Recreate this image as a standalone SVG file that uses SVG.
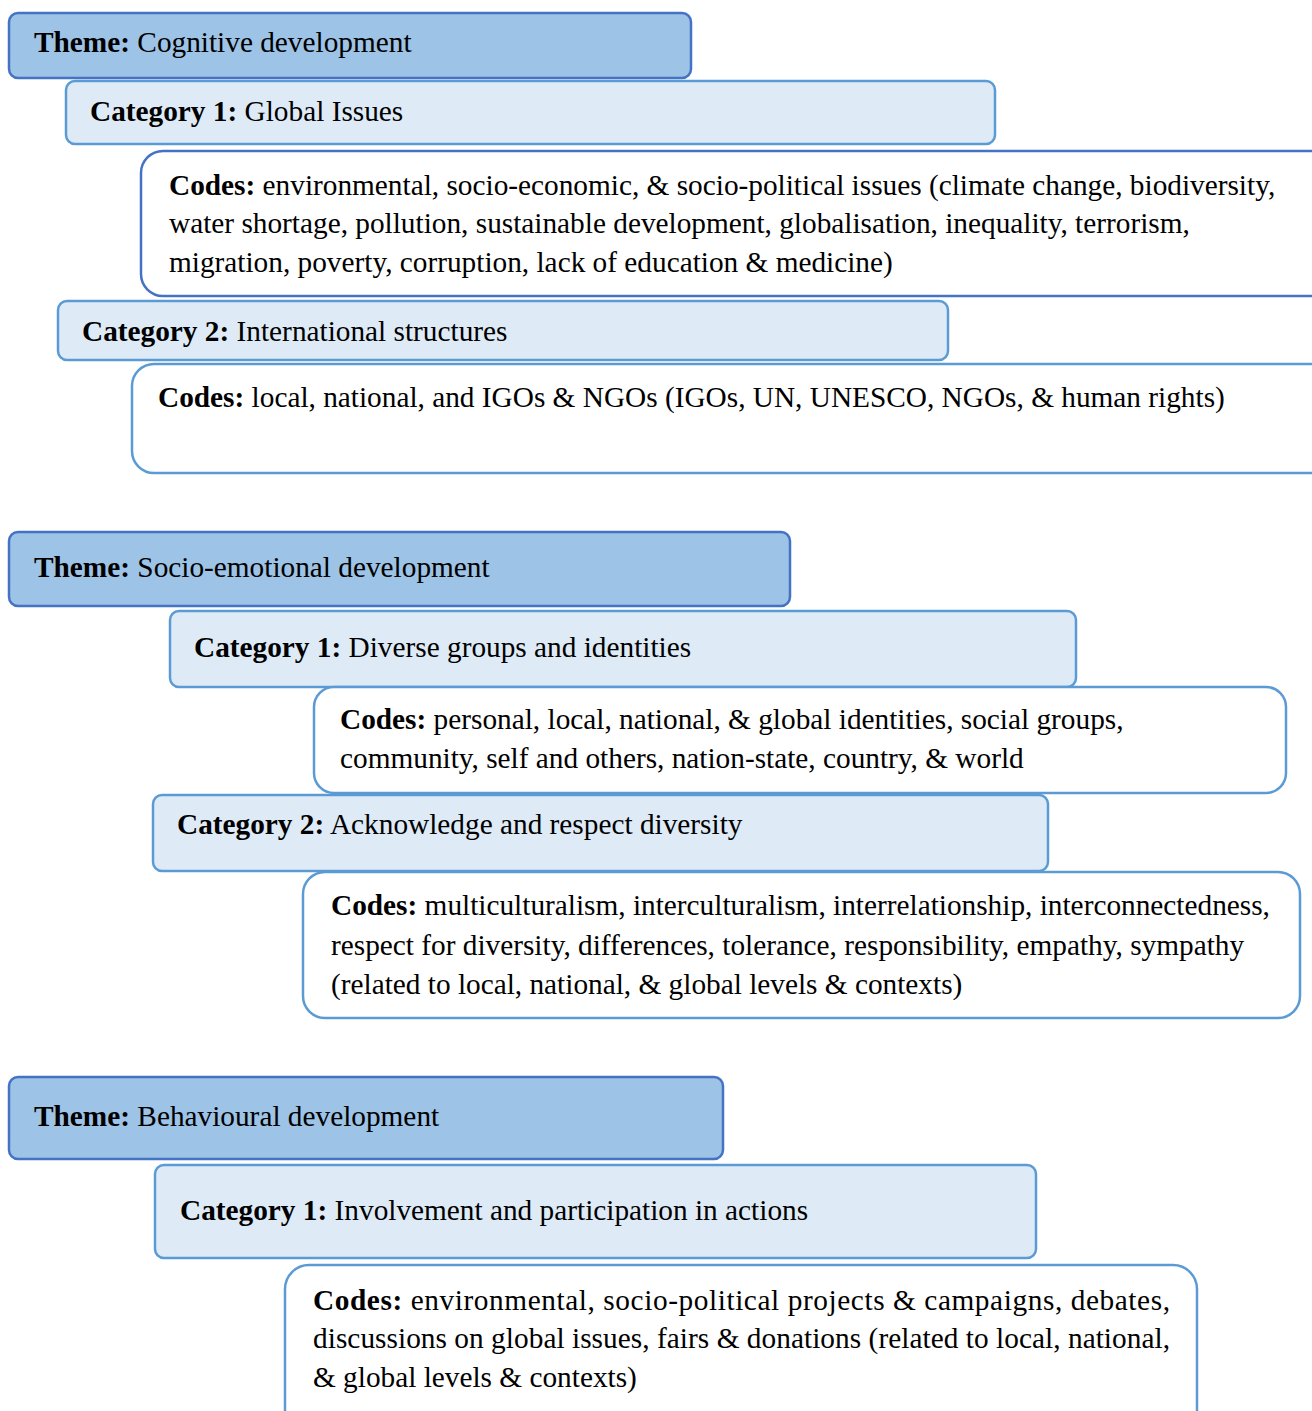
<svg xmlns="http://www.w3.org/2000/svg" width="1312" height="1411" viewBox="0 0 1312 1411">
<style>
text{font-family:"Liberation Serif","Times New Roman",serif;font-size:29.3px;fill:#000}
.b{font-weight:bold}
.theme{fill:#9DC3E6;stroke:#4472C4;stroke-width:2.5}
.cat{fill:#DEEBF7;stroke:#5B9BD5;stroke-width:2.5}
.code{fill:#fff;stroke:#5B9BD5;stroke-width:2.5}
.code1{fill:#fff;stroke:#4472C4;stroke-width:2.5}
</style>
<rect width="1312" height="1411" fill="#fff"/>
<g id="theme1"><rect class="theme" x="9" y="13" width="682" height="65" rx="9"/><text x="34" y="52"><tspan class="b">Theme:</tspan> Cognitive development</text></g>
<g id="t1cat1"><rect class="cat" x="66" y="81" width="929" height="63" rx="9"/><text x="90" y="121"><tspan class="b">Category 1:</tspan> Global Issues</text></g>
<g id="t1codes1"><rect class="code1" x="141" y="151" width="1200" height="145" rx="22"/>
<text x="169" y="195"><tspan class="b">Codes:</tspan> environmental, socio-economic, &amp; socio-political issues (climate change, biodiversity,</text>
<text x="169" y="233">water shortage, pollution, sustainable development, globalisation, inequality, terrorism,</text>
<text x="169" y="272">migration, poverty, corruption, lack of education &amp; medicine)</text></g>
<g id="t1cat2"><rect class="cat" x="58" y="301" width="890" height="59" rx="9"/><text x="82" y="341"><tspan class="b">Category 2:</tspan> International structures</text></g>
<g id="t1codes2"><rect class="code" x="132" y="364" width="1210" height="109" rx="22"/>
<text x="158" y="407"><tspan class="b">Codes:</tspan> local, national, and IGOs &amp; NGOs (IGOs, UN, UNESCO, NGOs, &amp; human rights)</text></g>

<g id="theme2"><rect class="theme" x="9" y="532" width="781" height="74" rx="9"/><text x="34" y="577"><tspan class="b">Theme:</tspan> Socio-emotional development</text></g>
<g id="t2cat1"><rect class="cat" x="170" y="611" width="906" height="76" rx="9"/><text x="194" y="657"><tspan class="b">Category 1:</tspan> Diverse groups and identities</text></g>
<g id="t2codes1"><rect class="code" x="314" y="687" width="972" height="106" rx="20"/>
<text x="340" y="729"><tspan class="b">Codes:</tspan> personal, local, national, &amp; global identities, social groups,</text>
<text x="340" y="768">community, self and others, nation-state, country, &amp; world</text></g>
<g id="t2cat2"><rect class="cat" x="153" y="795" width="895" height="76" rx="9"/><text x="177" y="834"><tspan class="b">Category 2:</tspan> Acknowledge and respect diversity</text></g>
<g id="t2codes2"><rect class="code" x="303" y="872" width="997" height="146" rx="22"/>
<text x="331" y="915"><tspan class="b">Codes:</tspan> multiculturalism, interculturalism, interrelationship, interconnectedness,</text>
<text x="331" y="955">respect for diversity, differences, tolerance, responsibility, empathy, sympathy</text>
<text x="331" y="994">(related to local, national, &amp; global levels &amp; contexts)</text></g>

<g id="theme3"><rect class="theme" x="9" y="1077" width="714" height="82" rx="9"/><text x="34" y="1126"><tspan class="b">Theme:</tspan> Behavioural development</text></g>
<g id="t3cat1"><rect class="cat" x="155" y="1165" width="881" height="93" rx="9"/><text x="180" y="1220"><tspan class="b">Category 1:</tspan> Involvement and participation in actions</text></g>
<g id="t3codes1"><rect class="code" x="285" y="1265" width="912" height="170" rx="24"/>
<text x="313" y="1310" textLength="857" lengthAdjust="spacing"><tspan class="b">Codes:</tspan> environmental, socio-political projects &amp; campaigns, debates,</text>
<text x="313" y="1348" textLength="857" lengthAdjust="spacing">discussions on global issues, fairs &amp; donations (related to local, national,</text>
<text x="313" y="1387">&amp; global levels &amp; contexts)</text></g>
<g id="connectors"></g>
</svg>
